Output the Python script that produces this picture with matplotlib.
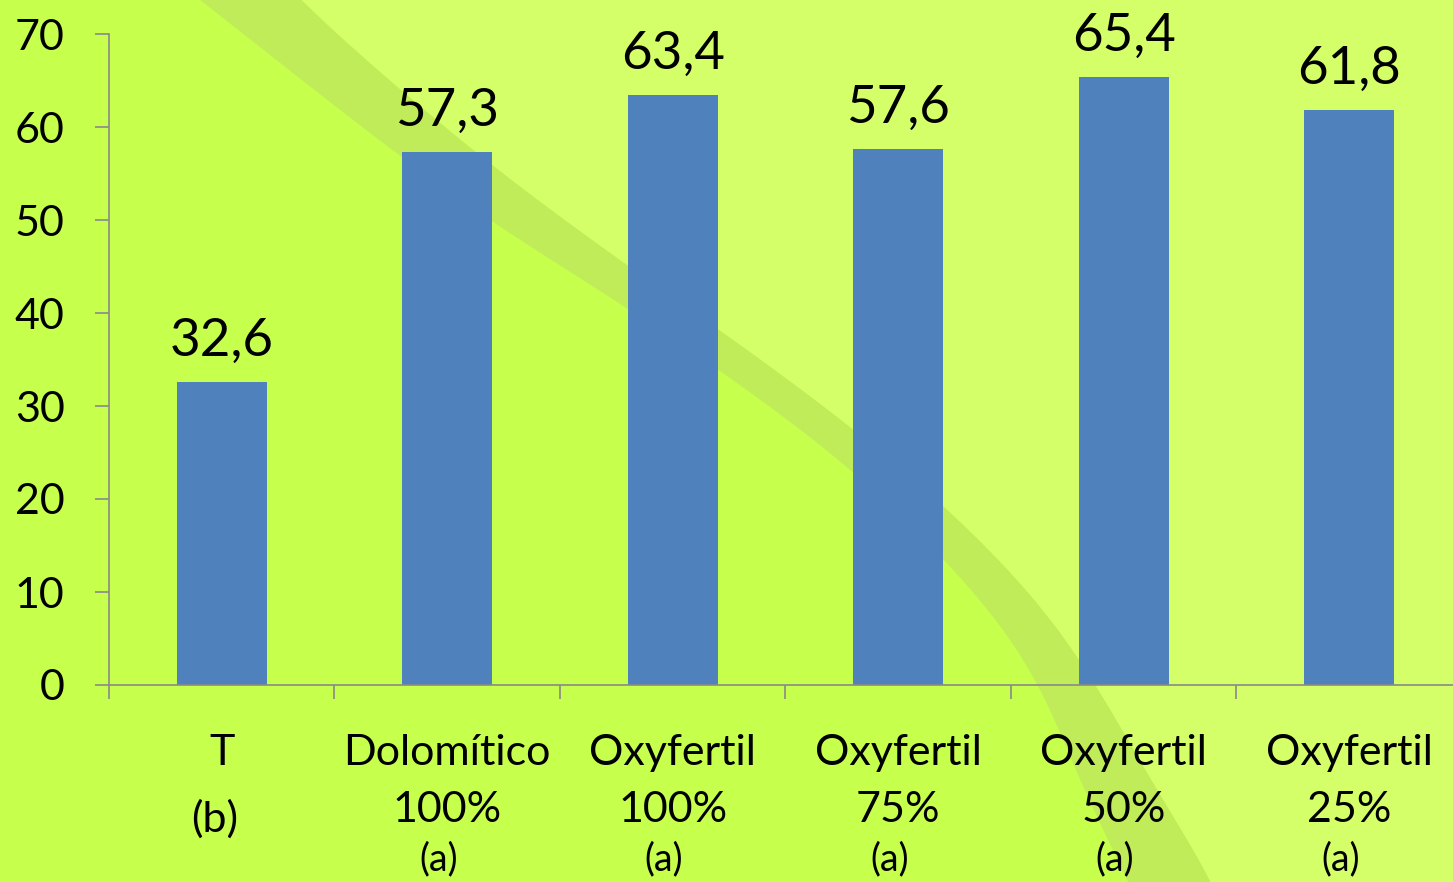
import matplotlib
matplotlib.use("Agg")
import numpy as np
import matplotlib.pyplot as plt
from matplotlib.patches import Polygon

# data
names = ['T', 'Dolomítico', 'Oxyfertil', 'Oxyfertil', 'Oxyfertil', 'Oxyfertil']
doses = ['', '100%', '100%', '75%', '50%', '25%']
groups = ['(b)', '(a)', '(a)', '(a)', '(a)', '(a)']
values = [32.6, 57.3, 63.4, 57.6, 65.4, 61.8]
yticks = [0, 10, 20, 30, 40, 50, 60, 70]

W, H = 1453, 882
plt.rcParams['font.family'] = ['Lato', 'DejaVu Sans']

fig = plt.figure(figsize=(W / 100, H / 100), dpi=100)
fig.patch.set_facecolor('#c6ff4c')

# background decoration: light area + curved darker band (pixel coords, top-left origin)
upper = [(120, -200), (297, 0), (400, 90), (493, 168), (628, 267), (718, 328), (853, 427),
         (943, 503), (1035, 595), (1085, 665), (1125, 735), (1165, 805), (1215, 882), (1280, 1050)]
lower = [(-50, -200), (200, 0), (400, 157), (493, 225), (628, 307), (718, 368), (853, 467),
         (943, 557), (1005, 625), (1045, 692), (1087, 800), (1130, 882), (1200, 1050)]

def smooth_edge(pts):
    xs = np.array([p[0] for p in pts], float)
    ys = np.array([p[1] for p in pts], float)
    yy = np.arange(ys[0], ys[-1], 2.0)
    xx = np.interp(yy, ys, xs)
    k = np.exp(-0.5 * (np.arange(-60, 61) / 22.0) ** 2)
    k /= k.sum()
    xs_s = np.convolve(xx, k, mode='same')
    keep = (yy >= 0) & (yy <= H)
    return list(zip(xs_s[keep], yy[keep]))

def to_fig(pts):
    return [(x / W, 1 - y / H) for x, y in pts]

up = smooth_edge(upper)
lo = smooth_edge(lower)
light = to_fig(up + [(W, H), (W, 0)])
band = to_fig(up + lo[::-1])
fig.patches.append(Polygon(light, closed=True, transform=fig.transFigure,
                           facecolor='#d4ff69', edgecolor='none', zorder=-2))
fig.patches.append(Polygon(band, closed=True, transform=fig.transFigure,
                           facecolor='#bfec58', edgecolor='none', zorder=-1))

ax = fig.add_axes([109 / W, 1 - 685 / H, 1353 / W, 651 / H])
ax.set_facecolor('none')
ax.set_zorder(1)

x = list(range(len(values)))
ax.bar(x, values, width=0.4, color='#4f81bd', zorder=2)

ax.set_xlim(-0.5, len(values) - 0.5)
ax.set_ylim(0, 70)

for s in ['top', 'right']:
    ax.spines[s].set_visible(False)
for s in ['left', 'bottom']:
    ax.spines[s].set_color('#898989')
    ax.spines[s].set_linewidth(1.2)

ax.set_yticks(yticks)
ax.set_yticklabels([str(t) for t in yticks], fontsize=31)
ax.tick_params(axis='y', length=10, width=1.2, color='#898989', pad=22)

ax.set_xticks([i - 0.5 for i in range(len(values) + 1)])
ax.set_xticklabels([])
ax.tick_params(axis='x', length=10, width=1.2, color='#898989')

# value labels
for i, v in enumerate(values):
    ax.annotate(f"{v:.1f}".replace('.', ','), xy=(i, v), xytext=(0, 19),
                textcoords='offset points', ha='center', va='baseline', fontsize=38)

# category labels
tr = ax.get_xaxis_transform()
for i in x:
    ax.text(i, -0.123, names[i], transform=tr, ha='center', va='baseline', fontsize=31)
    if doses[i]:
        ax.text(i, -0.210, doses[i], transform=tr, ha='center', va='baseline', fontsize=31)
        ax.text(i - 0.04, -0.284, groups[i], transform=tr, ha='center', va='baseline', fontsize=27)
    else:
        ax.text(i - 0.03, -0.226, groups[i], transform=tr, ha='center', va='baseline', fontsize=31)

fig.savefig('out.png', dpi=100, facecolor=fig.get_facecolor())
